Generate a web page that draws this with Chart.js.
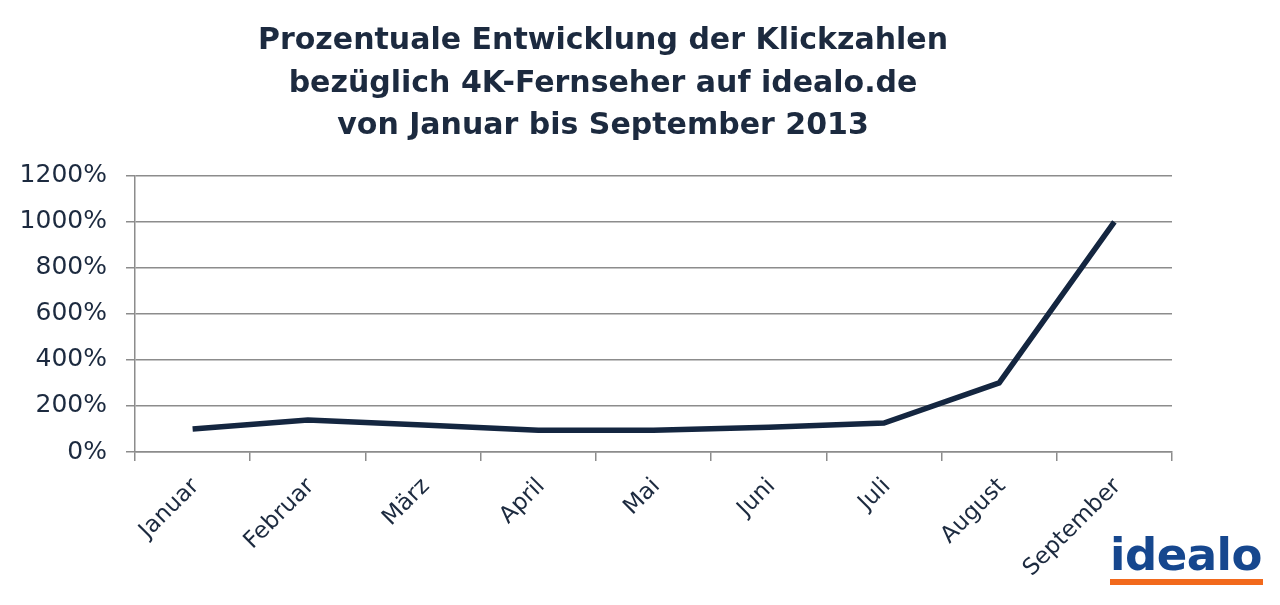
<!DOCTYPE html>
<html>
<head>
<meta charset="utf-8">
<script src="https://cdn.jsdelivr.net/npm/chart.js@4.4.0/dist/chart.umd.min.js"></script>
<style>
  html, body { margin: 0; padding: 0; background: #fff; }
  #wrap { position: relative; width: 1280px; height: 605px; }
  #logo { position: absolute; left: 1110px; top: 532px; width: 153px; }
  #logo .txt { font-family: "DejaVu Sans", sans-serif; font-weight: bold; font-size: 45px; color: #16478e; line-height: 45px; letter-spacing: -0.5px; }
  #logo .bar { height: 6px; background: #f2691c; margin-top: 2px; }
</style>
</head>
<body>
<div id="wrap">
  <canvas id="myLineChart" width="1280" height="605"></canvas>
  <div id="logo"><div class="txt">idealo</div><div class="bar"></div></div>
</div>
<script>
// Klickzahlen 4K-Fernseher, Prozent
const months = ['Januar', 'Februar', 'März', 'April', 'Mai', 'Juni', 'Juli', 'August', 'September'];
const clicks = [100, 139, 117, 95, 95, 108, 126, 300, 1000];
const yTicks = [0, 200, 400, 600, 800, 1000, 1200];

const textColor = '#1c2a3f';
const gridColor = '#8c8c8c';

// Titel etwas nach rechts schieben (Mitte bei ca. 603px)
const shiftTitle = {
  id: 'shiftTitle',
  afterLayout(chart) {
    if (chart.titleBlock) chart.titleBlock.left += 34;
  }
};

var ctx = document.getElementById("myLineChart");
let myLineChart = new Chart(ctx, {
  type: 'line',
  data: {
    labels: months,
    datasets: [{
      data: clicks,
      borderColor: '#142640',
      borderWidth: 5.5,
      pointRadius: 0,
      fill: false,
      tension: 0
    }]
  },
  options: {
    responsive: false,
    animation: false,
    layout: { padding: { left: 0, right: 108, top: 0, bottom: 0 } },
    plugins: {
      legend: { display: false },
      tooltip: { enabled: false },
      title: {
        display: true,
        text: ['Prozentuale Entwicklung der Klickzahlen', 'bezüglich 4K-Fernseher auf idealo.de', 'von Januar bis September 2013'],
        color: textColor,
        font: { family: 'DejaVu Sans', size: 30, weight: 'bold', lineHeight: 1.42 },
        padding: { top: 20, bottom: 28 }
      }
    },
    scales: {
      x: {
        offset: true,
        grid: { display: true, drawOnChartArea: false, drawTicks: true, tickLength: 9, color: gridColor, lineWidth: 1.5, offset: true },
        border: { display: true, color: gridColor, width: 1.5 },
        ticks: {
          color: textColor,
          font: { family: 'DejaVu Sans', size: 23 },
          minRotation: 45,
          maxRotation: 45,
          padding: 12,
          labelOffset: 3
        },
        afterFit: function(scale) { scale.height = 153; }
      },
      y: {
        min: 0,
        max: 1200,
        afterBuildTicks: function(scale) { scale.ticks = yTicks.map(v => ({ value: v })); },
        grid: { color: gridColor, lineWidth: 1.5, tickLength: 9 },
        border: { display: true, color: gridColor, width: 1.5 },
        ticks: {
          color: textColor,
          font: { family: 'DejaVu Sans', size: 25 },
          padding: 19,
          callback: function(v) { return String(v) + '%'; }
        },
        afterFit: function(scale) { scale.width = 135; }
      }
    }
  },
  plugins: [shiftTitle]
});
</script>
</body>
</html>
